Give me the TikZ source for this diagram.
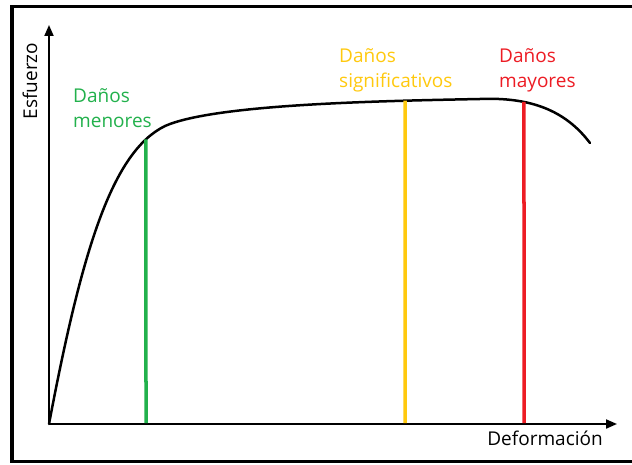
\documentclass[tikz,border=0pt]{standalone}
\usepackage{fontspec}
\setmainfont{Open Sans}
\usetikzlibrary{arrows.meta,intersections}
\definecolor{dgreen}{RGB}{34,177,76}
\definecolor{dyellow}{RGB}{255,201,14}
\definecolor{dred}{RGB}{237,28,36}
\begin{document}
\begin{tikzpicture}[x=1pt,y=-1pt,
  lbl/.style={font=\fontsize{19}{25}\selectfont,align=left,inner sep=0pt},
  axis/.style={line width=2pt,-{Triangle[length=11pt,width=9pt]}},
  marker/.style={line width=3.5pt},
  curvestyle/.style={line width=2.5pt,line cap=round}]
\useasboundingbox (0,0) rectangle (632,465);
\fill[white] (0,0) rectangle (632,465);
% frame (right edge outside the picture)
\draw[line width=3.5pt] (645,6.5) -- (12,6.5) -- (12,461.5) -- (645,461.5);
% axes
\coordinate (O) at (49,424);
\coordinate (ytop) at (49,25);
\coordinate (xend) at (617,424);
\draw[axis] (O) -- (ytop);
\draw[axis] (O) -- (xend);
% curve
\draw[curvestyle,name path=curve] (O) .. controls (82,250) and (112,152) .. (165,126)
  .. controls (215,104) and (380,101) .. (480,99)
  .. controls (530,97) and (565,110) .. (590,143);
% vertical markers
\path[name path=vg] (146,60) -- (146,430);
\path[name path=vy] (405,60) -- (405,430);
\path[name path=vr] (524,60) -- (524,430);
\path[name intersections={of=curve and vg,by=gtop}];
\path[name intersections={of=curve and vy,by=ytopm}];
\path[name intersections={of=curve and vr,by=rtop}];
\coordinate (gbot) at (146,423);
\coordinate (ybot) at (405,423);
\coordinate (rbot) at (524,423);
\draw[marker,dgreen] (gtop) -- (gbot);
\draw[marker,dyellow] (ytopm) -- (ybot);
\draw[marker,dred] (rtop) -- (rbot);
% labels (base = baseline of the last line)
\node[lbl,dgreen,anchor=base west] (lg) at (73,128) {Daños\\menores};
\node[lbl,dyellow,anchor=base west] (ly) at (339,88) {Daños\\significativos};
\node[lbl,dred,anchor=base west] (lr) at (499,88) {Daños\\mayores};
\node[lbl,rotate=90,anchor=base] (ylab) at (37,81) {Esfuerzo};
\node[lbl,anchor=base east] (xlab) at (603,445) {Deformación};
\end{tikzpicture}
\end{document}
